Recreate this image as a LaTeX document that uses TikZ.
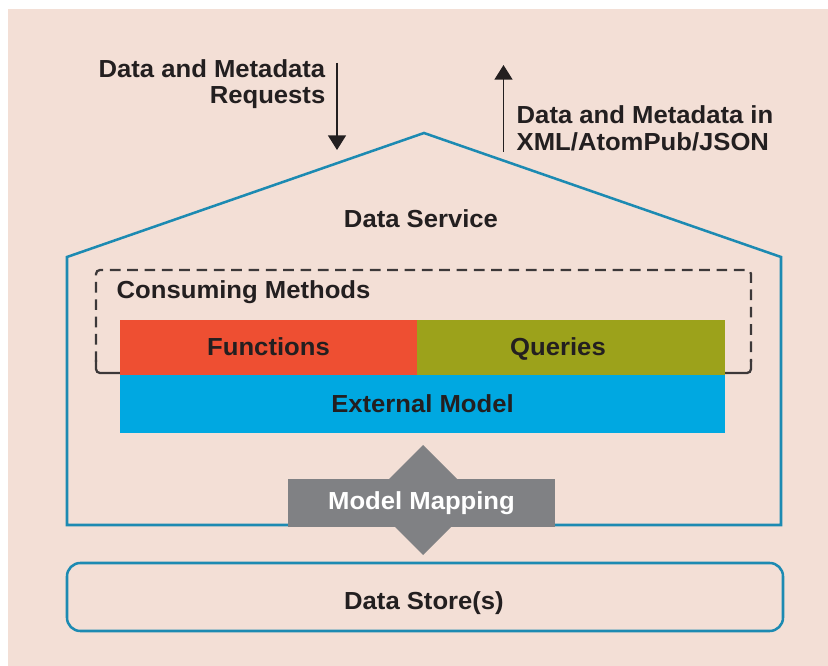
\documentclass[tikz,border=0pt]{standalone}
\usepackage{fontspec}
\setmainfont{Liberation Sans}[FakeStretch=1.04]
\usetikzlibrary{arrows.meta}

\definecolor{peach}{RGB}{243,223,214}
\definecolor{housecol}{RGB}{28,138,178}
\definecolor{funccol}{RGB}{238,79,50}
\definecolor{querycol}{RGB}{156,162,27}
\definecolor{extcol}{RGB}{0,168,225}
\definecolor{mapcol}{RGB}{128,129,132}
\definecolor{inkcol}{RGB}{35,31,32}
\definecolor{framecol}{RGB}{60,56,57}

\begin{document}
\begin{tikzpicture}[x=0.75pt,y=-0.75pt,
  every node/.style={font=\fontsize{18.5pt}{20pt}\selectfont\bfseries, text=inkcol},
  outline/.style={draw=housecol, line width=1.9pt, line join=miter},
  block/.style={inner sep=0pt, outer sep=0pt, minimum height=41.25pt},
  flowarrow/.style={draw=inkcol, line width=1.1pt, -{Triangle[width=13.5pt,length=11pt]}},
  methodbox/.style={draw=framecol, line width=1.7pt, dash pattern=on 8pt off 5pt},
  frameline/.style={draw=framecol, line width=1.7pt},
]
% canvas
\useasboundingbox (0,0) rectangle (828,666);
\fill[white] (0,0) rectangle (828,666);
\fill[peach] (8,9) rectangle (828,666);

% data service house outline
\draw[outline] (67,525) -- (67,257) -- (424,133) -- (781,257) -- (781,525) -- cycle;
\node (service) at (421,219) {Data Service};

% consuming methods frame: dashed top and sides, solid foot
\draw[methodbox, rounded corners=3pt] (96,362) -- (96,270) -- (751,270) -- (751,362);
\draw[frameline] (96,360) [rounded corners=3pt] -- (96,373) -- (122,373);
\draw[frameline] (751,360) [rounded corners=3pt] -- (751,373) -- (722,373);
\node[anchor=west] (consuming) at (112,292) {Consuming Methods};

% method and model blocks
\node[block, fill=funccol, minimum width=222.75pt] (functions) at (268.5,347.5) {};
\node (functxt) at (268.5,347) {Functions};
\node[block, fill=querycol, minimum width=231pt] (queries) at (571,347.5) {};
\node (querytxt) at (558,349) {Queries};
\node[block, fill=extcol, minimum width=453.75pt, minimum height=43.5pt] (external) at (422.5,404) {External Model};

% model mapping double arrow
\fill[mapcol] (423,445) -- (478,500) -- (423,555) -- (368,500) -- cycle;
\node[block, fill=mapcol, minimum width=200.25pt, minimum height=36pt, text=white] (mapping) at (421.5,503) {Model Mapping};

% data store
\node[outline, rounded corners=10pt, minimum width=537pt, minimum height=51pt, inner sep=0pt] (store) at (425,597) {};
\node (storetxt) at (424,603) {Data Store(s)};

% request / response arrows
\coordinate (reqstart) at (337,63);
\coordinate (reqend) at (337,150);
\coordinate (respstart) at (503.5,152);
\coordinate (respend) at (503.5,65);
\draw[flowarrow] (reqstart) -- (reqend);
\draw[flowarrow] (respstart) -- (respend);
\node[anchor=east, align=right] (reqtxt) at (330,84) {Data and Metadata\\Requests};
\node[anchor=west, align=left] (resptxt) at (512,128) {Data and Metadata in\\XML/AtomPub/JSON};
\end{tikzpicture}
\end{document}
